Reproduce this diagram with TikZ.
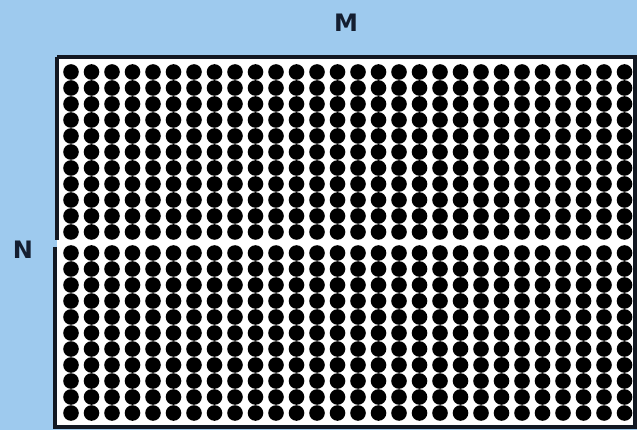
\documentclass[tikz,border=0pt]{standalone}
\usepackage{fontspec}
\setmainfont{DejaVu Sans}
\definecolor{bgblue}{RGB}{158,202,238}
\definecolor{edge}{RGB}{18,24,34}
\definecolor{labelc}{RGB}{20,30,48}
\begin{document}
\begin{tikzpicture}[x=1pt,y=-1pt,
  dot/.style={fill=black},
  frame/.style={draw=edge,line width=3.4pt},
  lbl/.style={text=labelc,font=\fontsize{24}{24}\selectfont\bfseries,inner sep=0pt}]
\fill[bgblue] (0,0) rectangle (637,430);
\useasboundingbox (0,0) rectangle (637,430);
\fill[white] (57,57) rectangle (635,427);
% frame
\draw[frame] (57,57) -- (635,57) -- (635,427) -- (55,427) -- (55,247);
\draw[frame] (57,57) -- (57,240);
% dots
\foreach \i in {0,...,27}{
  \foreach \j in {0,...,10}{
    \fill[dot] ({71+\i*20.5},{72+\j*16}) circle (7.8);
    \fill[dot] ({71+\i*20.5},{253+\j*16}) circle (7.8);
  }
}
\node[lbl] (m) at (346,23) {M};
\node[lbl] (n) at (23,250) {N};
\end{tikzpicture}
\end{document}
